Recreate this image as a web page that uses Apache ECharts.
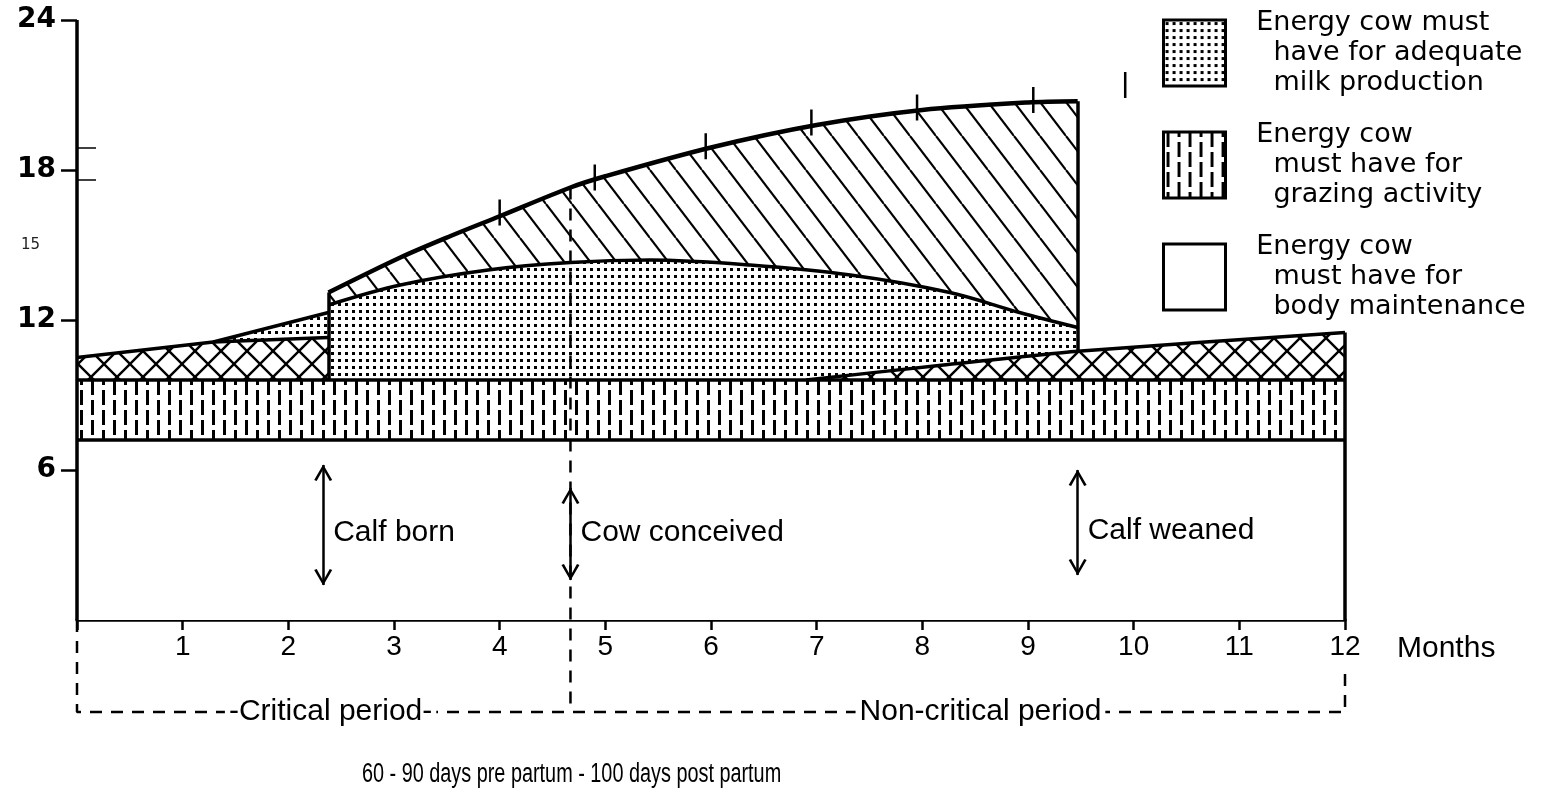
<!DOCTYPE html>
<html>
<head>
<meta charset="utf-8">
<title>Energy requirements of the cow</title>
<script src="https://cdn.jsdelivr.net/npm/echarts@6/dist/echarts.min.js"></script>
<style>
  html, body { margin: 0; padding: 0; background: #fff; }
  #app { width: 1547px; height: 790px; }
</style>
</head>
<body>
<div id="app"></div>
<script>
// ---- data (x = months, y = energy) ----
const energyTicks = [6, 12, 18, 24];
const energyLabels = [6, 12, 15, 18, 24];

const layerNames = [
  'Energy cow must\nhave for adequate\nmilk production',
  'Energy cow\nmust have for\ngrazing activity',
  'Energy cow\nmust have for\nbody maintenance'
];

const maintenanceTop = [[0, 7.2], [12, 7.2]];
const grazingTop = [[0, 9.6], [12, 9.6]];
const crossLeftTop = [[0, 10.5], [1.29, 11.12], [2.38, 11.3]];
const crossRightTop = [[6.9, 9.6], [8.2, 10.2], [9.47, 10.75], [12, 11.5]];
const milkWedgeTop = [[1.29, 11.12], [2.38, 12.3]];
const milkTop = [[2.38, 12.6], [3.06, 13.4], [3.89, 14.0], [4.67, 14.3], [5.42, 14.4], [6.37, 14.2],
  [7.32, 13.8], [8.26, 13.1], [8.92, 12.3], [9.47, 11.7]];
const totalTop = [[2.38, 13.1], [3.06, 14.5], [3.53, 15.35], [4, 16.15], [4.67, 17.3],
  [5, 17.75], [6, 18.9], [7, 19.8], [8, 20.4], [9, 20.7], [9.47, 20.75]];
const curveMarks = [[4, 16.3], [4.9, 17.7], [5.95, 18.95], [6.95, 19.9], [7.95, 20.5], [9.05, 20.8], [9.92, 21.4]];
const axisScratches = [18.9, 17.6];

const eventNames = ['Calf born', 'Cow conceived', 'Calf weaned'];
const eventMonth = [2.33, 4.67, 9.47];
const eventHigh = [6.2, 5.28, 6.0];
const eventLow = [1.4, 1.6, 1.8];
const eventLabelY = [3.48, 3.48, 3.56];

const conceivedTop = 17.3;
const bracketLevel = -3.68;
const bracketRightTop = -1.9;
const periodNames = ['-Critical period-', 'Non-critical period'];
const periodCenter = [2.4, 8.55];
const caption = '60 - 90 days pre partum - 100 days post partum';

// ---- fill patterns ----
function pattern(w, h, paint) {
  const c = document.createElement('canvas');
  c.width = w; c.height = h;
  const ctx = c.getContext('2d');
  ctx.fillStyle = '#fff';
  ctx.fillRect(0, 0, w, h);
  ctx.fillStyle = '#000';
  ctx.strokeStyle = '#000';
  paint(ctx, w, h);
  return { image: c, repeat: 'repeat' };
}
const dots = pattern(7, 7, ctx => ctx.fillRect(2, 2, 3, 3));
const hatch = pattern(26, 34, (ctx, w, h) => {
  ctx.lineWidth = 2.2;
  [-1, 0, 1].forEach(k => {
    ctx.beginPath(); ctx.moveTo(k * w, 0); ctx.lineTo(k * w + w, h); ctx.stroke();
  });
});
const cross = pattern(26, 26, (ctx, w, h) => {
  ctx.lineWidth = 2.4;
  [-1, 0, 1].forEach(k => {
    ctx.beginPath(); ctx.moveTo(k * w, 0); ctx.lineTo(k * w + w, h); ctx.stroke();
    ctx.beginPath(); ctx.moveTo(k * w + w, 0); ctx.lineTo(k * w, h); ctx.stroke();
  });
});
const dashes = pattern(22, 40, ctx => {
  ctx.fillRect(3, 0, 3, 15); ctx.fillRect(3, 20, 3, 15);
  ctx.fillRect(14, 0, 3, 5); ctx.fillRect(14, 10, 3, 15); ctx.fillRect(14, 30, 3, 10);
});

const chevron = 'path://M8,-14L8,-14Z M0,14 L8,0 L16,14 L13.8,14.8 L8,4.2 L2.2,14.8 Z';
const black = '#000';
const arial = 'Liberation Sans, Arial, sans-serif';

function band(name, data, fill, width, smooth) {
  return {
    type: 'line', name: name, data: data, smooth: smooth || false,
    symbol: 'none', silent: true,
    lineStyle: { color: black, width: width },
    itemStyle: { color: black },
    areaStyle: { color: fill, opacity: 1 }
  };
}
function seg(a, b, style) {
  return [{ coord: a }, { coord: b, lineStyle: style }];
}

const solid = { type: 'solid', width: 3.5, color: black };
const last = totalTop[totalTop.length - 1];
const edgeLines = [
  seg([0, 0], [0, 24], solid),
  seg([totalTop[0][0], grazingTop[0][1]], totalTop[0], solid),
  seg([last[0], crossRightTop[2][1]], last, solid),
  seg([12, 0], crossRightTop[crossRightTop.length - 1], solid)
].concat(axisScratches.map(v => seg([0, v], [0.18, v], { type: 'solid', width: 1.5, color: black })))
 .concat(eventMonth.map((m, i) => [
  { coord: [m, eventHigh[i]], symbol: chevron, symbolSize: [18, 32] },
  { coord: [m, eventLow[i]], symbol: chevron, symbolSize: [18, 32], lineStyle: { type: 'solid', width: 2.5, color: black } }
]));

const chart = echarts.init(document.getElementById('app'));
chart.setOption({
  animation: false,
  backgroundColor: '#fff',
  textStyle: { fontFamily: arial, color: black },
  graphic: [{
    type: 'text', x: 362, y: 761, scaleX: 0.735, silent: true,
    style: { text: caption, fontFamily: arial, fontSize: 27, fill: black }
  }],
  legend: {
    data: [
      { name: layerNames[0], itemStyle: { color: dots, borderColor: black, borderWidth: 3 } },
      { name: layerNames[1], itemStyle: { color: dashes, borderColor: black, borderWidth: 3 } },
      { name: layerNames[2], itemStyle: { color: '#fff', borderColor: black, borderWidth: 3 } }
    ],
    orient: 'vertical', left: 1157, top: 3,
    icon: 'rect', itemWidth: 62, itemHeight: 66, itemGap: 22,
    selectedMode: false,
    formatter: name => name.split('\n').map((l, i) => (i ? '     ' : '   ') + l).join('\n'),
    textStyle: { fontFamily: 'DejaVu Sans', fontSize: 27, lineHeight: 30, color: black }
  },
  grid: { left: 77, right: 202, top: 20, bottom: 170, outerBoundsMode: 'none' },
  xAxis: {
    type: 'value', min: 0, max: 12, interval: 1,
    name: 'Months', nameLocation: 'end', nameGap: 52,
    nameTextStyle: { fontFamily: arial, fontSize: 30, color: black, verticalAlign: 'top', padding: [14, 0, 0, 0] },
    axisLine: { lineStyle: { color: black, width: 3.5 } },
    axisTick: { length: 10, lineStyle: { color: black, width: 2.5 } },
    axisLabel: { margin: 13, fontFamily: arial, fontSize: 28, color: black, formatter: v => (v === 0 ? '' : v) },
    splitLine: { show: false }
  },
  yAxis: {
    type: 'value', min: 0, max: 24, interval: 3,
    axisLine: { show: false },
    axisTick: { customValues: energyTicks, length: 16, lineStyle: { color: black, width: 2.5 } },
    axisLabel: {
      customValues: energyLabels, margin: 21,
      fontFamily: 'DejaVu Sans', fontWeight: 'bold', fontSize: 28, color: black,
      formatter: v => (v === 15 ? '{s|15}' : energyLabels.indexOf(v) >= 0 ? String(v) : ''),
      rich: { s: { fontFamily: 'DejaVu Sans', fontSize: 15, fontWeight: 'normal', color: '#222', padding: [0, 16, 0, 0] } }
    },
    splitLine: { show: false }
  },
  series: [
    band('Upper hatched band', totalTop, hatch, 4.5, 0.3),
    band(layerNames[0], milkWedgeTop, dots, 3.5),
    band(layerNames[0], milkTop, dots, 3.5, 0.35),
    band('Cross-hatched band', crossLeftTop, cross, 3.5),
    band('Cross-hatched band', crossRightTop, cross, 3.5, 0.2),
    band(layerNames[1], grazingTop, dashes, 3.5),
    Object.assign(band(layerNames[2], maintenanceTop, '#fff', 3.5), {
      markLine: { silent: true, symbol: ['none', 'none'], label: { show: false }, data: edgeLines }
    }),
    {
      type: 'line', name: 'Conception', silent: true, symbol: 'none', clip: false, z: 4,
      data: [[eventMonth[1], conceivedTop], [eventMonth[1], bracketLevel]],
      lineStyle: { color: black, width: 2.5, type: [12, 9] }
    },
    {
      type: 'line', name: 'Period bracket', silent: true, symbol: 'none', clip: false, z: 4,
      data: [[0, 0], [0, bracketLevel], [12, bracketLevel], [12, bracketRightTop]],
      lineStyle: { color: black, width: 2.5, type: [12, 9] }
    },
    {
      type: 'scatter', name: 'Curve marks', silent: true, z: 6,
      symbol: 'rect', symbolSize: [2.5, 26], itemStyle: { color: black, opacity: 1 },
      data: curveMarks
    },
    {
      type: 'scatter', name: 'Events', silent: true, symbolSize: 0, z: 10,
      itemStyle: { color: black, opacity: 1 },
      data: eventNames.map((n, i) => ({ name: n, value: [eventMonth[i], eventLabelY[i]] })),
      label: { show: true, position: 'right', distance: 10, formatter: '{b}', fontFamily: arial, fontSize: 30, color: black }
    },
    {
      type: 'scatter', name: 'Periods', silent: true, symbolSize: 0, z: 10, clip: false,
      itemStyle: { color: black, opacity: 1 },
      data: periodNames.map((n, i) => ({ name: n, value: [periodCenter[i], bracketLevel] })),
      label: { show: true, position: 'inside', formatter: '{b}', fontFamily: arial, fontSize: 30, color: black,
        backgroundColor: '#fff', padding: [0, 4] }
    }
  ]
});
</script>
</body>
</html>
